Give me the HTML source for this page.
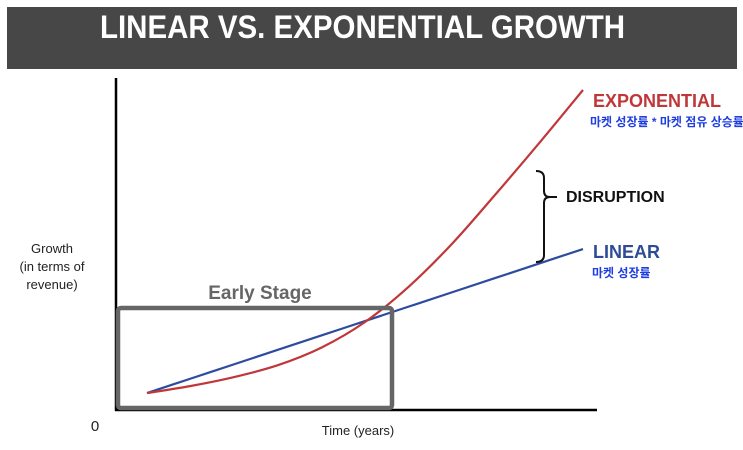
<!DOCTYPE html>
<html><head><meta charset="utf-8"><style>
html,body{margin:0;padding:0;background:#fff;}
body{width:743px;height:445px;overflow:hidden;}
svg text{font-family:"Liberation Sans","Noto Sans CJK KR",sans-serif;}
</style></head><body>
<svg width="743" height="445" viewBox="0 0 743 445">
<rect x="7" y="7" width="730" height="62" fill="#474747"/>
<text x="100" y="38" fill="#fff" font-weight="bold" font-size="32" textLength="525" lengthAdjust="spacingAndGlyphs">LINEAR VS. EXPONENTIAL GROWTH</text>
<line x1="116" y1="78" x2="116" y2="411" stroke="#000" stroke-width="2.5"/>
<line x1="115" y1="410" x2="597" y2="410" stroke="#000" stroke-width="2.5"/>
<g id="series"></g>
<rect x="118" y="308" width="274" height="100" rx="3" fill="none" stroke="#666" stroke-width="4.5"/>
<text x="260" y="299" text-anchor="middle" fill="#666" stroke="#fff" stroke-width="3" paint-order="stroke" font-weight="bold" font-size="19">Early Stage</text>
<text x="52" y="253" text-anchor="middle" font-size="13" fill="#222"><tspan x="52">Growth</tspan><tspan x="52" dy="18">(in terms of</tspan><tspan x="52" dy="18">revenue)</tspan></text>
<text x="95" y="431" text-anchor="middle" font-size="15" fill="#222">0</text>
<text x="358" y="435" text-anchor="middle" font-size="13" fill="#222">Time (years)</text>
<text x="593" y="107" fill="#c0373a" font-weight="bold" font-size="18">EXPONENTIAL</text>
<text x="590" y="126" fill="#1f3ee0" font-weight="bold" font-size="12">마켓 성장률 * 마켓 점유 상승률</text>
<path d="M536 171 Q544 171 544 178 L544 191 Q544 197 550 197 Q544 197 544 203 L544 255 Q544 262 536 262" fill="none" stroke="#111" stroke-width="2"/>
<line x1="550" y1="197" x2="557" y2="197" stroke="#111" stroke-width="2"/>
<text x="566" y="202" fill="#111" font-weight="bold" font-size="16">DISRUPTION</text>
<text x="593" y="258" fill="#2d4b96" font-weight="bold" font-size="18">LINEAR</text>
<text x="592" y="277" fill="#1f3ee0" font-weight="bold" font-size="12">마켓 성장률</text>
</svg>
<script>
const years=[0,1,2,3,4,5,6,7,8,9,10];
const linearValues=[5.3,9.8,14.3,18.8,23.3,27.8,32.3,36.8,41.3,45.8,50.3];
const exponentialValues=[5.3,7.5,10.3,14,19.5,27.5,38.5,52,67.5,83.5,100];
function xs(t){return 147+43.6*t;}
function ys(v){return 410-v*3.2;}
function pathFor(vals){
  const p=years.map((t,i)=>[xs(t),ys(vals[i])]);
  let d='M'+p[0][0]+' '+p[0][1];
  for(let i=0;i<p.length-1;i++){
    const p0=p[i-1]||p[i],p1=p[i],p2=p[i+1],p3=p[i+2]||p2;
    const c1=[p1[0]+(p2[0]-p0[0])/6,p1[1]+(p2[1]-p0[1])/6];
    const c2=[p2[0]-(p3[0]-p1[0])/6,p2[1]-(p3[1]-p1[1])/6];
    d+=` C${c1[0]} ${c1[1]} ${c2[0]} ${c2[1]} ${p2[0]} ${p2[1]}`;
  }
  return d;
}
const g=document.getElementById('series');
const ns='http://www.w3.org/2000/svg';
const lin=document.createElementNS(ns,'path');
lin.setAttribute('d',pathFor(linearValues));
lin.setAttribute('fill','none');lin.setAttribute('stroke','#2d4b9f');lin.setAttribute('stroke-width','2.2');


g.appendChild(lin);
const ex=document.createElementNS(ns,'path');
ex.setAttribute('d',pathFor(exponentialValues));
ex.setAttribute('fill','none');ex.setAttribute('stroke','#c0373a');ex.setAttribute('stroke-width','2.2');


g.appendChild(ex);
</script>
</body></html>
